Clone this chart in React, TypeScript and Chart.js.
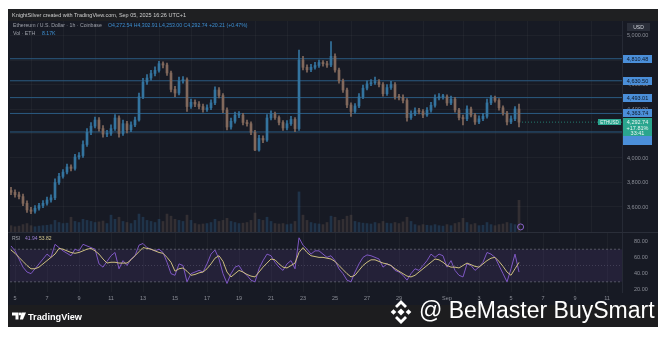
import React, { useEffect, useRef } from "react";
import { Chart, registerables } from "chart.js";

Chart.register(...registerables);

// ---------------- data ----------------
// 6-hour candles, first one at Aug 4 18:00 (day -0.25 relative to Aug 5 00:00)
const START_DAY = -0.25;
const STEP_DAY = 0.25;
const FIRST_OPEN = 3735;

const closes = [
  3720, 3700, 3685, 3630, 3576, 3565, 3590, 3612, 3630, 3657,
  3675, 3800, 3850, 3885, 3927, 3915, 4008, 4020, 4110, 4210,
  4260, 4310, 4240, 4195, 4200, 4240, 4327, 4200, 4280, 4230,
  4270, 4310, 4500, 4620, 4653, 4690, 4715, 4770, 4759, 4694,
  4560, 4530, 4630, 4640, 4420, 4455, 4440, 4420, 4395, 4410,
  4450, 4555, 4510, 4392, 4253, 4300, 4350, 4350, 4290, 4280,
  4210, 4065, 4160, 4147, 4327, 4360, 4330, 4290, 4245, 4280,
  4315, 4240, 4800, 4740, 4720, 4740, 4755, 4780, 4770, 4759,
  4830, 4718, 4630, 4555, 4433, 4380, 4425, 4500, 4570, 4605,
  4615, 4620, 4600, 4525, 4575, 4600, 4500, 4495, 4470, 4330,
  4360, 4385, 4380, 4351, 4390, 4430, 4490, 4500, 4500, 4449,
  4480, 4392, 4330, 4320, 4400, 4350, 4294, 4320, 4340, 4450,
  4490, 4470, 4410, 4367, 4294, 4320, 4400, 4292.74,
];

const highs = [
  3760, 3740, 3722, 3705, 3650, 3598, 3612, 3630, 3652, 3680,
  3700, 3830, 3875, 3905, 3950, 3945, 4030, 4045, 4140, 4240,
  4290, 4335, 4330, 4265, 4225, 4270, 4355, 4345, 4310, 4300,
  4295, 4335, 4530, 4650, 4680, 4715, 4745, 4790, 4785, 4775,
  4710, 4585, 4660, 4665, 4655, 4480, 4475, 4460, 4440, 4435,
  4475, 4580, 4575, 4525, 4410, 4325, 4375, 4378, 4365, 4310,
  4295, 4225, 4185, 4180, 4355, 4385, 4375, 4345, 4305, 4305,
  4340, 4330, 4880, 4830, 4760, 4765, 4780, 4800, 4795, 4790,
  4950, 4850, 4735, 4645, 4570, 4450, 4445, 4525, 4595, 4630,
  4640, 4660, 4640, 4615, 4600, 4625, 4615, 4520, 4515, 4485,
  4385, 4410, 4405, 4395, 4412, 4455, 4515, 4525, 4520, 4515,
  4505, 4495, 4405, 4350, 4425, 4415, 4365, 4345, 4365, 4480,
  4510, 4505, 4485, 4425, 4380, 4345, 4420, 4440,
];

const lows = [
  3700, 3680, 3665, 3610, 3555, 3545, 3550, 3575, 3595, 3615,
  3640, 3660, 3785, 3835, 3870, 3895, 3900, 3990, 4005, 4095,
  4190, 4245, 4220, 4170, 4175, 4185, 4225, 4170, 4185, 4205,
  4215, 4255, 4300, 4485, 4600, 4635, 4670, 4700, 4735, 4675,
  4540, 4500, 4515, 4610, 4380, 4405, 4420, 4400, 4375, 4380,
  4395, 4435, 4490, 4370, 4230, 4235, 4285, 4330, 4270, 4260,
  4190, 4060, 4055, 4125, 4135, 4310, 4315, 4270, 4225, 4230,
  4265, 4215, 4225, 4720, 4700, 4705, 4725, 4740, 4750, 4740,
  4745, 4700, 4610, 4535, 4410, 4340, 4365, 4410, 4485, 4555,
  4590, 4600, 4580, 4505, 4510, 4560, 4480, 4475, 4450, 4300,
  4315, 4345, 4360, 4330, 4340, 4375, 4415, 4475, 4480, 4430,
  4435, 4375, 4310, 4270, 4305, 4335, 4275, 4280, 4305, 4325,
  4435, 4455, 4390, 4350, 4270, 4280, 4305, 4253,
];

const volumes = [
  30, 25, 28, 35, 40, 30, 25, 28, 30, 32,
  35, 55, 45, 40, 42, 70, 50, 45, 60, 55,
  50, 45, 48, 52, 40, 80, 60, 70, 50, 45,
  40, 55, 85, 70, 55, 50, 45, 60, 50, 85,
  75, 60, 55, 50, 80, 55, 40, 35, 38, 40,
  45, 60, 50, 55, 65, 50, 45, 40, 42, 45,
  55, 90, 60, 55, 70, 50, 40, 38, 40, 35,
  38, 50, 190, 80, 55, 45, 40, 38, 35, 45,
  75, 70, 55, 60, 75, 80, 50, 45, 42, 40,
  38, 45, 40, 50, 42, 40, 45, 40, 48, 70,
  50, 35, 30, 35, 32, 30, 35, 30, 28, 35,
  30, 40, 45, 65, 45, 35, 40, 30, 32, 45,
  35, 30, 35, 38, 45, 40, 35, 150,
];

const rsiValues = [
  74, 68, 58, 48, 42, 40, 46, 52, 58, 64,
  60, 76, 72, 68, 65, 62, 70, 68, 76, 74,
  72, 70, 52, 48, 55, 62, 66, 46, 56, 50,
  58, 62, 75, 77, 72, 70, 68, 70, 66, 54,
  40, 38, 52, 50, 30, 40, 42, 44, 42, 52,
  64, 69, 58, 40, 28, 40, 48, 50, 42, 38,
  32, 30, 46, 56, 64, 62, 54, 48, 44, 52,
  56, 46, 84, 75, 70, 64, 68, 68, 64, 60,
  62, 56, 46, 40, 32, 30, 42, 52, 60, 63,
  62, 60, 58, 48, 52, 50, 44, 42, 38, 32,
  40, 46, 44, 50, 56, 64, 60, 64, 62, 48,
  56, 44, 38, 36, 52, 50, 44, 48, 54, 66,
  64, 60, 50, 40, 30, 46, 64, 41.94,
];

const rsiMA = [
  69, 65, 60, 55, 50, 46, 46, 48, 52, 56,
  60, 64, 71, 70, 68, 66, 65, 66, 68, 70,
  71, 68, 64, 58, 53, 54, 54, 53, 53, 53,
  57, 62, 67, 72, 71, 70, 68, 66, 65, 60,
  54, 43, 46, 47, 43, 38, 39, 41, 42, 46,
  52, 59, 62, 55, 42, 36, 40, 44, 42, 39,
  37, 36, 42, 48, 53, 58, 57, 52, 48, 47,
  50, 53, 66, 72, 66, 62, 61, 60, 60, 59,
  58, 55, 50, 45, 40, 36, 38, 44, 50, 54,
  57, 57, 55, 53, 52, 50, 46, 43, 40, 37,
  36, 38, 42, 46, 50, 54, 58, 57, 54, 50,
  48, 48, 47, 50, 53, 51, 49, 48, 52, 56,
  59, 60, 55, 49, 42, 38, 46, 53.82,
];

const levelPrices = [4810.48, 4630.5, 4493.01, 4363.74, 4212.3];
const levelLabels = ["4,810.48", "4,630.50", "4,493.01", "4,363.74", ""];
const priceTicks = [3600, 3800, 4000, 4200, 4400, 4600, 4800, 5000];
const rsiTicks = [20, 40, 60, 80];
const rsiBands = [70, 50, 30];
const xTickDays = [0, 2, 4, 6, 8, 10, 12, 14, 16, 18, 20, 22, 24, 27, 29, 31, 33, 35, 37];
const xTickLabels = ["5", "7", "9", "11", "13", "15", "17", "19", "21", "23", "25", "27", "29", "Sep", "3", "5", "7", "9", "11"];
const LAST_PRICE = 4292.74;
const lastPriceLines = ["4,292.74", "+17.81%", "33:41"];
const SYMBOL = "ETHUSD";

// ---------------- look ----------------
const FONT = '"Liberation Sans", Arial, sans-serif';
const BG = "#171a24";
const GRID = "rgba(255,255,255,0.035)";
const AXIS_TEXT = "#8b8e97";
const UP = "#34749f";
const DOWN = "#82695c";
const LEVEL = "#2b5b82";
const LABEL_BLUE = "#4b8fd9";
const GREEN = "#2aa58e";
const AXIS_W = 36;

const X_MIN = -0.3125;
const X_MAX = 37.9375;
const P_MIN = 3395.9;
const P_MAX = 5118.4;
const R_MIN = 17.5;
const R_MAX = 89.9;

const fmt2 = (v: number) =>
  v.toLocaleString("en-US", { minimumFractionDigits: 2, maximumFractionDigits: 2 });

const noPad = (s: any) => {
  s.paddingTop = 0;
  s.paddingBottom = 0;
  s.paddingLeft = 0;
  s.paddingRight = 0;
};

const priceLabelPlugin = {
  id: "priceLabels",
  afterDraw(chart: any) {
    const { ctx, chartArea } = chart;
    const y = chart.scales.y;
    const r = chartArea.right;
    ctx.save();
    ctx.textAlign = "center";
    ctx.textBaseline = "middle";
    ctx.font = `5.5px ${FONT}`;
    levelPrices.forEach((p, i) => {
      const label = levelLabels[i];
      if (!label) return;
      const py = Math.round(y.getPixelForValue(p));
      ctx.fillStyle = LABEL_BLUE;
      ctx.fillRect(r + 1, py - 4, 29, 8);
      ctx.fillStyle = "#0e1726";
      ctx.fillText(label, r + 15.5, py + 0.5);
    });
    const py = Math.round(y.getPixelForValue(LAST_PRICE));
    ctx.fillStyle = GREEN;
    ctx.fillRect(r - 24, py - 3, 23, 6);
    ctx.fillStyle = "#e6f4f1";
    ctx.font = `4.5px ${FONT}`;
    ctx.fillText(SYMBOL, r - 12.5, py + 0.3);
    ctx.fillStyle = GREEN;
    ctx.fillRect(r + 1, py - 4, 29, 18);
    ctx.fillStyle = LABEL_BLUE;
    ctx.fillRect(r + 1, py + 14, 29, 9);
    ctx.fillStyle = "#eaf6f3";
    ctx.font = `5.5px ${FONT}`;
    ctx.fillText(lastPriceLines[0], r + 15.5, py + 0.5);
    ctx.fillText(lastPriceLines[1], r + 15.5, py + 6);
    ctx.fillText(lastPriceLines[2], r + 15.5, py + 11.5);
    ctx.restore();
  },
};

export default function App() {
  const mainRef = useRef<HTMLCanvasElement>(null);
  const rsiRef = useRef<HTMLCanvasElement>(null);

  useEffect(() => {
    Chart.defaults.font.family = FONT;
    const times = closes.map((_, i) => START_DAY + i * STEP_DAY);
    const opens = [FIRST_OPEN, ...closes.slice(0, -1)];
    const up = closes.map((c, i) => c >= opens[i]);
    const lastT = times[times.length - 1];

    const levelSets = levelPrices.map((p) => ({
      type: "line" as const,
      data: [
        { x: X_MIN, y: p },
        { x: X_MAX, y: p },
      ],
      borderColor: LEVEL,
      borderWidth: 1,
      pointRadius: 0,
      yAxisID: "y",
      order: 5,
    }));

    const main = new Chart(mainRef.current as HTMLCanvasElement, {
      type: "bar",
      data: {
        datasets: [
          ...levelSets,
          {
            type: "line",
            data: [
              { x: lastT, y: LAST_PRICE },
              { x: X_MAX, y: LAST_PRICE },
            ],
            borderColor: "rgba(42,165,142,0.7)",
            borderWidth: 1,
            borderDash: [1, 2],
            pointRadius: 0,
            yAxisID: "y",
            order: 4,
          },
          {
            type: "bar",
            data: times.map((t, i) => ({ x: t, y: [0, volumes[i]] })),
            backgroundColor: up.map((u) => (u ? "rgba(58,134,194,0.24)" : "rgba(143,116,101,0.24)")),
            barThickness: 2,
            grouped: false,
            yAxisID: "vol",
            order: 6,
          },
          {
            type: "bar",
            data: times.map((t, i) => ({ x: t, y: [lows[i], highs[i]] })),
            backgroundColor: up.map((u) => (u ? UP : DOWN)),
            barThickness: 1,
            grouped: false,
            yAxisID: "y",
            order: 2,
          },
          {
            type: "bar",
            data: times.map((t, i) => ({ x: t, y: [opens[i], closes[i]] })),
            backgroundColor: up.map((u) => (u ? UP : DOWN)),
            barThickness: 2,
            minBarLength: 1,
            grouped: false,
            yAxisID: "y",
            order: 1,
          },
          {
            type: "line",
            data: [{ x: lastT + 0.1, y: 24 }],
            showLine: false,
            pointRadius: 3,
            pointBorderWidth: 1,
            pointBorderColor: "#8a63c9",
            pointBackgroundColor: "rgba(0,0,0,0)",
            yAxisID: "vol",
            order: 0,
          },
        ],
      } as any,
      options: {
        animation: false,
        responsive: false,
        maintainAspectRatio: false,
        events: [],
        layout: { padding: 0, autoPadding: false },
        plugins: { legend: { display: false }, tooltip: { enabled: false } },
        scales: {
          x: {
            type: "linear",
            min: X_MIN,
            max: X_MAX,
            offset: false,
            grid: { color: GRID, drawTicks: false },
            border: { display: false },
            ticks: { display: false },
            afterBuildTicks: (s: any) => {
              s.ticks = xTickDays.map((v) => ({ value: v }));
            },
            afterFit: (s: any) => {
              s.height = 0;
              noPad(s);
            },
          },
          y: {
            position: "right",
            min: P_MIN,
            max: P_MAX,
            grid: { color: GRID, drawTicks: false },
            border: { display: true, color: "#262a35" },
            ticks: {
              color: AXIS_TEXT,
              font: { size: 5.5, family: FONT },
              padding: 5,
              autoSkip: false,
              callback: (v: any) => fmt2(Number(v)),
            },
            afterBuildTicks: (s: any) => {
              s.ticks = priceTicks.map((v) => ({ value: v }));
            },
            afterFit: (s: any) => {
              s.width = AXIS_W;
              noPad(s);
            },
          },
          vol: { display: false, min: 0, max: 1000 },
        },
      } as any,
      plugins: [priceLabelPlugin],
    });

    const bandSet = (v: number, i: number) => ({
      data: [
        { x: X_MIN, y: v },
        { x: X_MAX, y: v },
      ],
      borderColor: v === 50 ? "rgba(120,123,134,0.35)" : "rgba(120,123,134,0.6)",
      borderWidth: 1,
      borderDash: v === 50 ? [1, 2] : [2, 2],
      pointRadius: 0,
      fill: i === 0 ? "+2" : false,
      backgroundColor: "rgba(126,87,194,0.13)",
      order: 5,
    });

    const rsi = new Chart(rsiRef.current as HTMLCanvasElement, {
      type: "line",
      data: {
        datasets: [
          ...rsiBands.map(bandSet),
          {
            data: times.map((t, i) => ({ x: t, y: rsiValues[i] })),
            borderColor: "#7e57c2",
            borderWidth: 1,
            pointRadius: 0,
            fill: false,
            order: 2,
          },
          {
            data: times.map((t, i) => ({ x: t, y: rsiMA[i] })),
            borderColor: "#cdbf80",
            borderWidth: 1,
            pointRadius: 0,
            fill: false,
            order: 1,
          },
        ],
      } as any,
      options: {
        animation: false,
        responsive: false,
        maintainAspectRatio: false,
        events: [],
        layout: { padding: { top: 1 }, autoPadding: false },
        plugins: { legend: { display: false }, tooltip: { enabled: false } },
        scales: {
          x: {
            type: "linear",
            min: X_MIN,
            max: X_MAX,
            offset: false,
            grid: { color: GRID, drawTicks: false },
            border: { display: false },
            ticks: {
              color: AXIS_TEXT,
              font: { size: 5.5, family: FONT },
              padding: 3,
              autoSkip: false,
              maxRotation: 0,
              callback: (_v: any, i: number) => xTickLabels[i],
            },
            afterBuildTicks: (s: any) => {
              s.ticks = xTickDays.map((v) => ({ value: v }));
            },
            afterFit: (s: any) => {
              s.height = 13;
              noPad(s);
            },
          },
          y: {
            position: "right",
            min: R_MIN,
            max: R_MAX,
            grid: { display: false },
            border: { display: true, color: "#262a35" },
            ticks: {
              color: AXIS_TEXT,
              font: { size: 5.5, family: FONT },
              padding: 4,
              autoSkip: false,
              callback: (v: any) => fmt2(Number(v)),
            },
            afterBuildTicks: (s: any) => {
              s.ticks = rsiTicks.map((v) => ({ value: v }));
            },
            afterFit: (s: any) => {
              s.width = AXIS_W;
              noPad(s);
            },
          },
        },
      } as any,
    });

    return () => {
      main.destroy();
      rsi.destroy();
    };
  }, []);

  const txt = { fontFamily: FONT } as const;

  return (
    <div
      style={{
        position: "fixed",
        left: 0,
        top: 0,
        width: 666,
        height: 337,
        background: "#ffffff",
        overflow: "hidden",
      }}
    >
      <div style={{ position: "absolute", left: 8, top: 9, width: 650, height: 318, background: BG }} />
      <div style={{ position: "absolute", left: 8, top: 9, width: 650, height: 12, background: "#1f2022" }} />
      <div style={{ position: "absolute", left: 8, top: 305, width: 650, height: 22, background: "#1d1d1f" }} />
      <canvas
        ref={mainRef}
        width={648}
        height={211}
        style={{ position: "absolute", left: 10, top: 21, width: 648, height: 211 }}
      />
      <canvas
        ref={rsiRef}
        width={648}
        height={73}
        style={{ position: "absolute", left: 10, top: 232, width: 648, height: 73 }}
      />
      <div style={{ position: "absolute", left: 8, top: 232, width: 650, height: 1, background: "#2a2e39" }} />
      <svg
        width={666}
        height={337}
        style={{ position: "absolute", left: 0, top: 0, pointerEvents: "none" }}
      >
        <text x={12} y={17} fontSize={5.5} fill="#cfcfcf" style={txt}>
          KnightSilver created with TradingView.com, Sep 05, 2025 16:26 UTC+1
        </text>
        <text x={13} y={27} fontSize={5.2} fill="#9ea1aa" style={txt}>
          Ethereum / U.S. Dollar · 1h · Coinbase
        </text>
        <text x={108} y={27} fontSize={5.2} fill="#3d8fd1" style={txt}>
          O4,272.54 H4,302.91 L4,253.00 C4,292.74 +20.21 (+0.47%)
        </text>
        <text x={13} y={35} fontSize={5.2} fill="#9ea1aa" style={txt}>
          Vol · ETH
        </text>
        <text x={42} y={35} fontSize={5.2} fill="#3d8fd1" style={txt}>
          8.17K
        </text>
        <rect x={627} y={23} width={23} height={8} fill="#2a2e39" />
        <text x={638.5} y={29.3} fontSize={5} fill="#d1d4dc" textAnchor="middle" style={txt}>
          USD
        </text>
        <text x={12} y={240} fontSize={5} fill="#9ea1aa" style={txt}>
          RSI
        </text>
        <text x={25} y={240} fontSize={5} fill="#9b7fd4" style={txt}>
          41.94
        </text>
        <text x={39} y={240} fontSize={5} fill="#d6c98e" style={txt}>
          53.82
        </text>
        {/* TradingView logo */}
        <path d="M12 312.5 h6.5 v7 h-3 v-4 h-3.5 z" fill="#ffffff" />
        <circle cx={20} cy={314} r={1.4} fill="#ffffff" />
        <path d="M21.5 312.5 h4.5 l-3 7 h-3.2 z" fill="#ffffff" />
        <text x={28} y={320} fontSize={9.2} fontWeight="bold" fill="#ffffff" style={txt}>
          TradingView
        </text>
        {/* Binance-style mark */}
        <g fill="#ffffff" transform="translate(401 312)">
          <rect x={-2.5} y={-2.5} width={5} height={5} transform="rotate(45)" />
          <rect x={-9.5} y={-2} width={4} height={4} transform="rotate(45 -7.5 0)" />
          <rect x={5.5} y={-2} width={4} height={4} transform="rotate(45 7.5 0)" />
          <path d="M0 -12 L6 -6 L4 -4 L0 -8 L-4 -4 L-6 -6 Z" />
          <path d="M0 12 L6 6 L4 4 L0 8 L-4 4 L-6 6 Z" />
        </g>
        <text x={419} y={318} fontSize={23} fill="#ffffff" style={txt}>
          @ BeMaster BuySmart
        </text>
      </svg>
    </div>
  );
}
